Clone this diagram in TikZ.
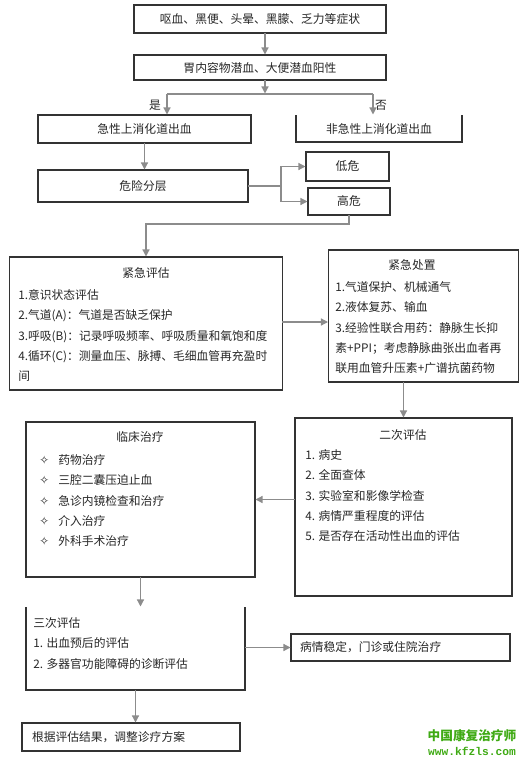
\documentclass[tikz,border=0pt]{standalone}
\usepackage{fontspec}
\setmainfont{Noto Sans CJK SC}
\newfontfamily\symfont{DejaVu Sans}
\newfontfamily\urlfont{Liberation Mono}
\usetikzlibrary{arrows.meta}

\definecolor{boxgray}{HTML}{333333}
\definecolor{linegray}{HTML}{8C8C8C}
\definecolor{wmgreen}{HTML}{3FAA14}

\newcommand\mk{\makebox[0.38cm][l]{\symfont ✧}}

\tikzset{
  txt/.style={font=\fontsize{6.7pt}{11.6pt}\selectfont, text=black!85, inner sep=0pt},
  box/.style={txt, draw=boxgray, line width=0.6pt, outer sep=0pt},
  openbox/.style={txt, outer sep=0pt},
  boxline/.style={draw=boxgray, line width=0.6pt},
  connline/.style={draw=linegray, line width=0.7pt},
  conn/.style={connline, -{Triangle[length=4pt, width=4pt]}, shorten >=0.3pt},
}

\begin{document}
\begin{tikzpicture}[x=0.02cm, y=-0.02cm]
  \useasboundingbox (0,0) rectangle (531,762);

  % upper part
  \node[box, minimum width=5.04cm, minimum height=0.56cm] (sym) at (260,19) {呕血、黑便、头晕、黑朦、乏力等症状};
  \node[box, minimum width=5.04cm, minimum height=0.5cm] (occult) at (260,67.5) {胃内容物潜血、大便潜血阳性};
  \node[box, minimum width=4.26cm, minimum height=0.56cm] (acute) at (144.5,129) {急性上消化道出血};
  \node[openbox, minimum width=3.32cm, minimum height=0.54cm] (nonacute) at (379,128.5) {非急性上消化道出血};
  \draw[boxline] (nonacute.north west) -- (nonacute.south west) -- (nonacute.south east) -- (nonacute.north east);
  \node[box, minimum width=4.2cm, minimum height=0.64cm] (risk) at (143,186) {危险分层};
  \node[box, minimum width=1.66cm, minimum height=0.58cm] (low) at (347.5,166.5) {低危};
  \node[box, minimum width=1.64cm, minimum height=0.54cm] (high) at (349,201.5) {高危};

  \draw[conn] (sym.south -| 265,0) -- (occult.north -| 265,0);
  \coordinate (split) at (265,94);
  \coordinate (yesend) at (167,94);
  \coordinate (noend) at (373,94);
  \draw[conn] (occult.south -| split) -- (split);
  \draw[connline] (yesend) -- (noend);
  \draw[conn] (yesend) -- (yesend |- acute.north);
  \draw[conn] (noend) -- (noend |- nonacute.north);
  \node[txt] (yes) at (155,105) {是};
  \node[txt] (no) at (381,105) {否};

  \draw[conn] (acute.south) -- (acute.south |- risk.north);
  \coordinate (fork) at (281,186);
  \draw[connline] (risk.east) -- (fork);
  \draw[conn] (fork) |- (low.west);
  \draw[conn] (fork) |- (high.west);
  \draw[conn] (high.south) -- ++(0,9) -| (146,257);

  % emergency
  \node[box, minimum width=5.46cm, minimum height=2.66cm] (emeval) at (146,323.5) {};
  \node[txt] (emevaltitle) at (146,273) {紧急评估};
  \node[txt, anchor=north west, align=left] (emevalbody) at (18,289) {1.意识状态评估\\
    2.气道(A)：气道是否缺乏保护\\
    3.呼吸(B)：记录呼吸频率、呼吸质量和氧饱和度\\
    4.循环(C)：测量血压、脉搏、毛细血管再充盈时\\
    间};

  \node[box, minimum width=3.8cm, minimum height=2.64cm] (emtreat) at (423.5,316) {};
  \node[txt] (emtreattitle) at (412,265) {紧急处置};
  \node[txt, anchor=north west, align=left] (emtreatbody) at (335,281) {1.气道保护、机械通气\\
    2.液体复苏、输血\\
    3.经验性联合用药：静脉生长抑\\
    素+PPI；考虑静脉曲张出血者再\\
    联用血管升压素+广谱抗菌药物};

  \draw[conn] (emeval.east |- 0,322) -- (emtreat.west |- 0,322);

  % second assessment and treatment
  \node[box, minimum width=4.34cm, minimum height=3.56cm] (second) at (403.5,507) {};
  \node[txt] (secondtitle) at (403,435) {二次评估};
  \node[txt, anchor=north west, align=left] (secondbody) at (305,449) {1. 病史\\
    2. 全面查体\\
    3. 实验室和影像学检查\\
    4. 病情严重程度的评估\\
    5. 是否存在活动性出血的评估};

  \node[box, minimum width=4.58cm, minimum height=3.1cm] (clinical) at (140.5,499.5) {};
  \node[txt] (clinicaltitle) at (140,437) {临床治疗};
  \node[txt, anchor=north west, align=left] (clinicalbody) at (39,454) {\mk 药物治疗\\
    \mk 三腔二囊压迫止血\\
    \mk 急诊内镜检查和治疗\\
    \mk 介入治疗\\
    \mk 外科手术治疗};

  \draw[conn] (emtreat.south -| second.north) -- (second.north);
  \draw[conn] (second.west |- clinical.east) -- (clinical.east);

  % third assessment
  \node[openbox, minimum width=4.38cm, minimum height=1.66cm] (third) at (135.5,648.5) {};
  \draw[boxline] (third.north west) -- (third.south west) -- (third.south east) -- (third.north east);
  \node[txt, anchor=north west, align=left] (thirdbody) at (33,617) {三次评估\\
    1. 出血预后的评估\\
    2. 多器官功能障碍的诊断评估};
  \node[box, minimum width=4.38cm, minimum height=0.54cm, text width=4.02cm, inner xsep=0.18cm, align=left] (stable) at (400.5,647.5) {病情稳定，门诊或住院治疗};
  \node[box, minimum width=4.36cm, minimum height=0.56cm, text width=3.96cm, inner xsep=0.2cm, align=left] (final) at (131,737) {根据评估结果，调整诊疗方案};

  \draw[conn] (clinical.south) -- (clinical.south |- third.north);
  \draw[conn] (third.east |- stable.west) -- (stable.west);
  \draw[conn] (third.south) -- (third.south |- final.north);

  % watermark
  \node[inner sep=0pt, text=wmgreen, font=\fontsize{7.2pt}{8pt}\selectfont\bfseries] (wm) at (472,736) {中国康复治疗师};
  \node[inner sep=0pt, text=wmgreen, font=\fontsize{6.4pt}{7pt}\urlfont\bfseries] (wmurl) at (472,751) {www.kfzls.com};
\end{tikzpicture}
\end{document}
